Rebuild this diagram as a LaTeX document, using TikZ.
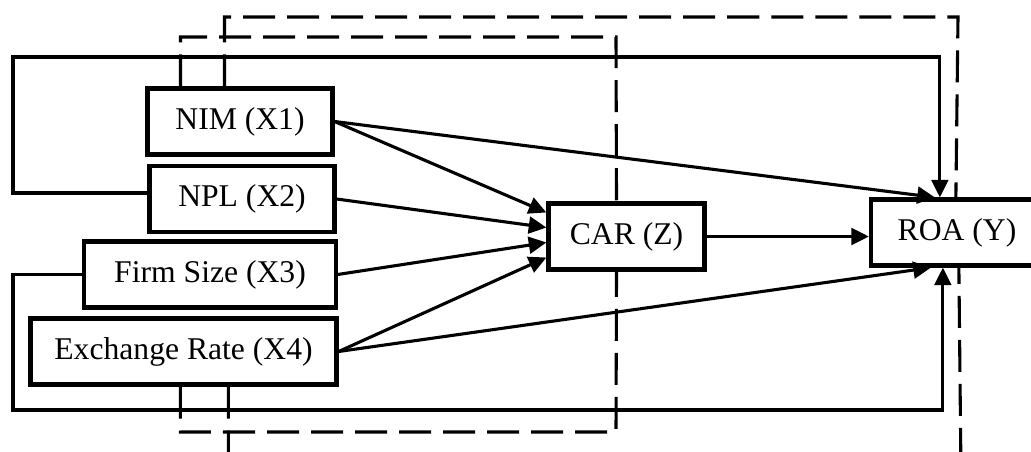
\documentclass[tikz,border=0pt]{standalone}
\usepackage{fontspec}
\setmainfont{Liberation Serif}
\usetikzlibrary{positioning,calc,arrows.meta}
\tikzset{
  box/.style={draw, line width=3pt, minimum height=1.65cm, inner sep=0pt,
    font=\fontsize{22.5}{27}\selectfont},
  link/.style={line width=2.2pt, -{Triangle[length=0.44cm,width=0.42cm]}},
  dashlink/.style={line width=2.2pt, dash pattern=on 0.8cm off 0.3cm},
}

\begin{document}
\begin{tikzpicture}[x=0.025cm,y=-0.025cm]
\useasboundingbox (0,0) rectangle (1031,452);
% boxes
\node[box, minimum width=4.62cm] (nim) at (240,121.5) {NIM (X1)};
\node[box, minimum width=4.62cm] (npl) at (242,199) {NPL (X2)};
\node[box, minimum width=6.28cm] (firm) at (210,274.5) {Firm Size (X3)};
\node[box, minimum width=7.65cm] (exch) at (183.5,351.5) {Exchange Rate (X4)};
\node[box, minimum width=3.9cm] (car) at (626.5,236.5) {CAR (Z)};
\node[box, minimum width=4.3cm] (roa) at (957,232.5) {ROA (Y)};
% direct paths
\draw[link] (nim.east) -- ($(car.west)+(0,-24)$);
\draw[link] (npl.east) -- ($(car.west)+(0,-9)$);
\draw[link] (firm.east) -- ($(car.west)+(0,6)$);
\draw[link] (exch.east) -- ($(car.west)+(0,21)$);
\draw[link] (nim.east) -- ($(roa.north west)+(66,0)$);
\draw[link] (exch.east) -- ($(roa.south west)+(62,0)$);
\draw[link] (car.east) -- (car.east -| roa.west);
% outer loops
\draw[link] ($(npl.west)+(0,-6)$) -| (13,57) -| ($(roa.north west)+(71,0)$);
\draw[link] (firm.west) -| (13,410) -| ($(roa.south west)+(74,0)$);
% dashed paths
\draw[dashlink] ($(nim.north west)+(35,0)$) |- (616,37) -- ($(car.north)+(-10,0)$);
\draw[dashlink] ($(exch.south west)+(152,0)$) |- (616,432) -- ($(car.south)+(-10,0)$);
\draw[dashlink] ($(nim.north west)+(79,0)$) |- (958,17) -- ($(roa.north west)+(87,0)$);
\draw[dashlink] ($(exch.south west)+(200,0)$) |- (961,475) -- ($(roa.south west)+(90,0)$);
\end{tikzpicture}
\end{document}
